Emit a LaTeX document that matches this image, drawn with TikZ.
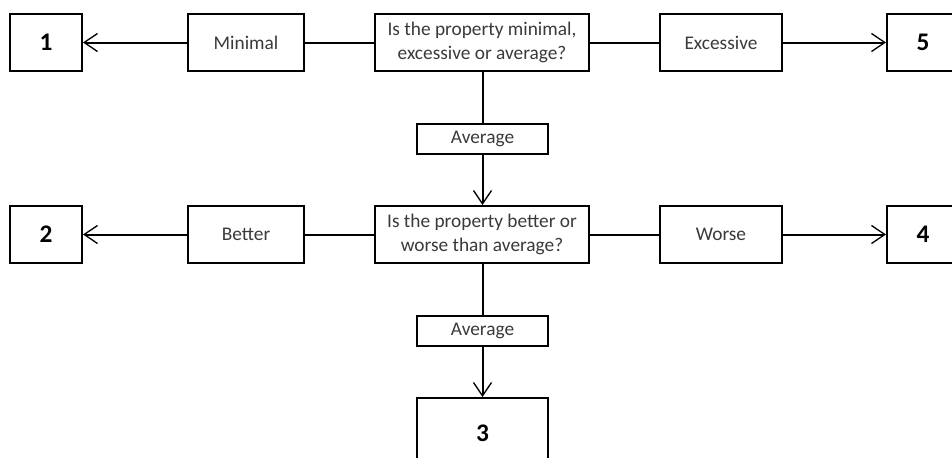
\documentclass[tikz,border=0pt]{standalone}
\usepackage{fontspec}
\setmainfont{Carlito}
\usetikzlibrary{arrows.meta}
\definecolor{labelgray}{HTML}{3A3A3A}
\begin{document}
\begin{tikzpicture}[x=0.75pt, y=-0.75pt,
		box/.style={draw, line width=1.5pt, fill=white, minimum height=42.75pt, inner sep=0pt, align=center, font=\fontsize{14.5}{18.5}\selectfont},
		numbox/.style={box, minimum width=54pt, font=\fontsize{19}{22}\selectfont\bfseries},
		answer/.style={box, minimum width=87pt, text=labelgray},
		question/.style={box, minimum width=160.5pt, text=labelgray},
		avgbox/.style={box, minimum width=98.25pt, minimum height=22.5pt, text=labelgray},
		link/.style={line width=1.5pt},
		arrowlink/.style={link, -{Straight Barb[length=10pt, width=13.5pt, line width=1pt]}}]
		\useasboundingbox (0, 0) rectangle (952, 457);
		
		\node[question] (q1) at (482, 42.5) {Is the property minimal,\\excessive or average?};
		\node[answer] (minimal) at (246, 42.5) {Minimal};
		\node[answer, minimum width=91.5pt] (excessive) at (721, 42.5) {Excessive};
		\node[numbox] (n1) at (46, 42.5) {1};
		\node[numbox] (n5) at (923, 42.5) {5};
		\node[avgbox] (avg1) at (482.5, 139) {Average};
		
		\node[question] (q2) at (482, 234.5) {Is the property better or\\worse than average?};
		\node[answer] (better) at (246, 234.5) {Better};
		\node[answer, minimum width=91.5pt] (worse) at (721, 234.5) {Worse};
		\node[numbox] (n2) at (46, 234.5) {2};
		\node[numbox] (n4) at (923, 234.5) {4};
		\node[avgbox] (avg2) at (482.5, 331) {Average};
		\node[numbox, minimum width=98.25pt, minimum height=52.5pt] (n3) at (482.5, 433) {3};
		
		\draw[link] (q1) -- (minimal);
		\draw[arrowlink] (minimal) -- (n1);
		\draw[link] (q1) -- (excessive);
		\draw[arrowlink] (excessive) -- (n5);
		\draw[link] (q1.south -| avg1) -- (avg1);
		\draw[arrowlink] (avg1) -- (q2.north -| avg1);
		
		\draw[link] (q2) -- (better);
		\draw[arrowlink] (better) -- (n2);
		\draw[link] (q2) -- (worse);
		\draw[arrowlink] (worse) -- (n4);
		\draw[link] (q2.south -| avg2) -- (avg2);
		\draw[arrowlink] (avg2) -- (n3);
	\end{tikzpicture}
\end{document}
